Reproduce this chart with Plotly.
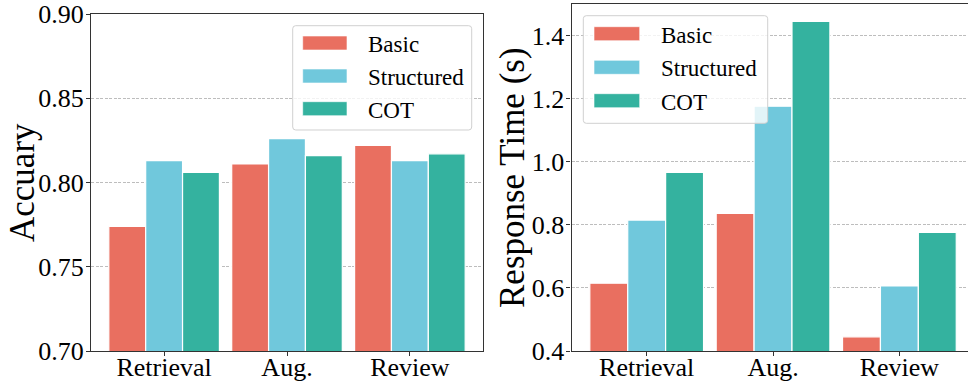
import plotly.graph_objects as go

categories = ["Retrieval", "Aug.", "Review"]
series_names = ["Basic", "Structured", "COT"]
accuracy_basic = [0.774, 0.811, 0.822]
accuracy_structured = [0.813, 0.826, 0.813]
accuracy_cot = [0.806, 0.816, 0.817]
time_basic = [0.615, 0.836, 0.445]
time_structured = [0.815, 1.176, 0.606]
time_cot = [0.966, 1.445, 0.776]
acc_ticks = [0.70, 0.75, 0.80, 0.85, 0.90]
time_ticks = [0.4, 0.6, 0.8, 1.0, 1.2, 1.4]

colors = ["rgb(233,111,96)", "rgb(112,200,220)", "rgb(52,178,159)"]
FONT = "Liberation Serif"
W, H = 968, 387
PH = 351  # plot area height in px (margin bottom 36)

def px_x(x):
    return x / W

def px_y(y):
    return 1 - y / PH

fig = go.Figure()
acc = [accuracy_basic, accuracy_structured, accuracy_cot]
tim = [time_basic, time_structured, time_cot]
for i, name in enumerate(series_names):
    fig.add_trace(go.Bar(x=categories, y=acc[i], name=name, marker_color=colors[i],
                         marker_line=dict(color="white", width=1.2), xaxis="x", yaxis="y",
                         showlegend=False))
    fig.add_trace(go.Bar(x=categories, y=tim[i], name=name, marker_color=colors[i],
                         marker_line=dict(color="white", width=1.2), xaxis="x2", yaxis="y2",
                         showlegend=False))

axis_common = dict(showline=True, linecolor="#333333", linewidth=1.2, mirror=True,
                   ticks="outside", ticklen=4, tickcolor="#333333", automargin=False,
                   tickfont=dict(family=FONT, size=26, color="black"))
grid = dict(showgrid=True, gridcolor="#bdbdbd", gridwidth=0.8, griddash="3px,1.5px", zeroline=False)

fig.update_layout(
    width=W, height=H, margin=dict(l=0, r=0, t=0, b=36),
    paper_bgcolor="white", plot_bgcolor="white",
    barmode="group", bargap=0.1, bargroupgap=0,
    xaxis=dict(domain=[px_x(91), px_x(483)], range=[-0.595, 2.595], showgrid=False,
               ticklabelstandoff=-11, **axis_common),
    yaxis=dict(domain=[0, px_y(14)], range=[0.70, 0.90], tickvals=acc_ticks,
               ticktext=[f"{v:.2f}" for v in acc_ticks], ticklabelstandoff=-3,
               **grid, **axis_common),
    xaxis2=dict(domain=[px_x(571.5), 1.0], range=[-0.595, 2.543], anchor="y2", showgrid=False,
                ticklabelstandoff=-11, **axis_common),
    yaxis2=dict(domain=[0, px_y(4)], range=[0.4, 1.5], anchor="x2", tickvals=time_ticks,
                ticktext=[f"{v:.1f}" for v in time_ticks], ticklabelstandoff=-3,
                **grid, **axis_common),
)

annotations = [
    dict(text="Accuary", x=px_x(22), y=px_y(183), xref="paper", yref="paper", textangle=-90,
         showarrow=False, xanchor="center", yanchor="middle", font=dict(family=FONT, size=35, color="black")),
    dict(text="Response Time (s)", x=px_x(512), y=px_y(178), xref="paper", yref="paper", textangle=-90,
         showarrow=False, xanchor="center", yanchor="middle", font=dict(family=FONT, size=35, color="black")),
]
shapes = []

def rounded_box(x0, y0, x1, y1, r=3):
    def P(x, y):
        return f"{px_x(x):.5f},{px_y(y):.5f}"
    return (f"M{P(x0 + r, y0)} L{P(x1 - r, y0)} Q{P(x1, y0)} {P(x1, y0 + r)} "
            f"L{P(x1, y1 - r)} Q{P(x1, y1)} {P(x1 - r, y1)} L{P(x0 + r, y1)} "
            f"Q{P(x0, y1)} {P(x0, y1 - r)} L{P(x0, y0 + r)} Q{P(x0, y0)} {P(x0 + r, y0)} Z")

def add_legend(box, sx0, sx1, centers, tx):
    shapes.append(dict(type="path", xref="paper", yref="paper", path=rounded_box(*box),
                       fillcolor="rgba(255,255,255,0.8)", line=dict(color="#d0d0d0", width=1), layer="above"))
    for i, name in enumerate(series_names):
        cy = centers[i]
        shapes.append(dict(type="rect", xref="paper", yref="paper", x0=px_x(sx0), x1=px_x(sx1),
                           y0=px_y(cy + 7), y1=px_y(cy - 7), fillcolor=colors[i],
                           line=dict(color="rgba(255,255,255,0.6)", width=1), layer="above"))
        annotations.append(dict(text=name, x=px_x(tx), y=px_y(cy + 1.5), xref="paper", yref="paper",
                                showarrow=False, xanchor="left", yanchor="middle",
                                font=dict(family=FONT, size=23, color="black")))

add_legend((292.7, 25.7, 471.7, 130), 302.7, 347, [43, 76, 108.7], 366)
add_legend((583.3, 15.7, 767.7, 123.3), 594, 639.7, [33.7, 67.3, 100.7], 659)

fig.update_layout(annotations=annotations, shapes=shapes)
fig.write_html("out.html", config={"displayModeBar": False},
               post_script="document.body.style.margin='0';document.body.style.overflow='hidden';")
